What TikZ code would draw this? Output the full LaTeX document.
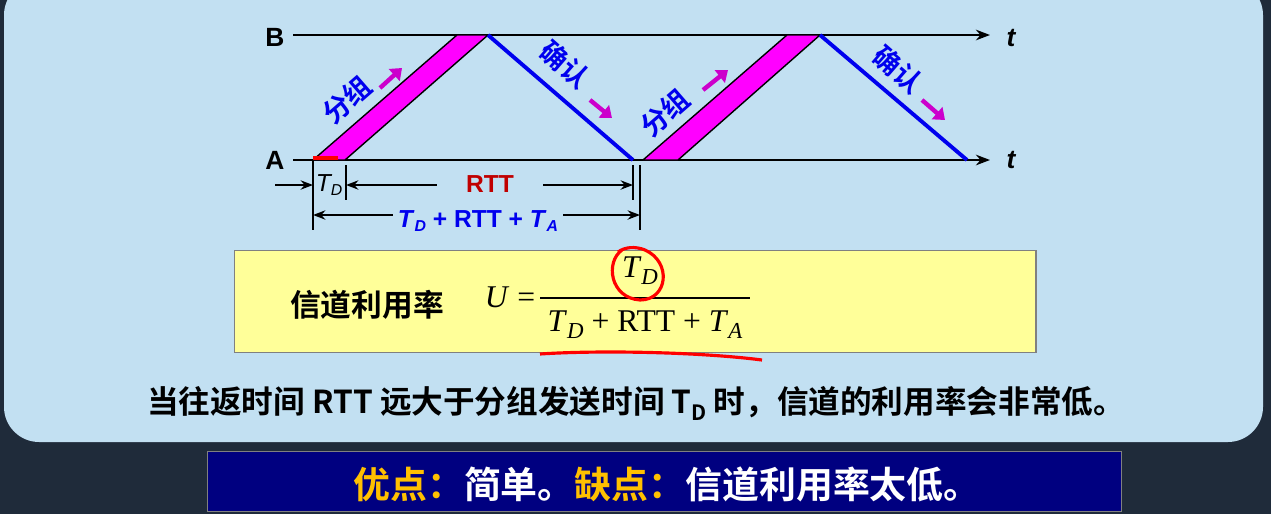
\documentclass[tikz,border=0pt]{standalone}
\usepackage{fontspec}
\setmainfont{Liberation Sans}
\newfontfamily\cjk{Noto Sans CJK SC}[BoldFont={Noto Sans CJK SC Bold}]
\newfontfamily\tms{Liberation Serif}
\usetikzlibrary{arrows.meta}
\definecolor{bgdark}{HTML}{1F2B3A}
\definecolor{panel}{HTML}{C2E0F2}
\definecolor{mag}{HTML}{FF00FF}
\definecolor{arr}{HTML}{CC00CC}
\definecolor{ablue}{HTML}{0000EE}
\definecolor{rttred}{HTML}{C00000}
\definecolor{yel}{HTML}{FFFF99}
\definecolor{navy}{HTML}{000080}
\definecolor{gold}{HTML}{FFC000}
\begin{document}
\begin{tikzpicture}[x=0.02cm,y=-0.02cm,
  axis/.style={line width=1.6pt,-{Stealth[length=8pt]}},
  pkt/.style={fill=mag,draw=black,line width=0.8pt},
  ack/.style={draw=ablue,line width=2.2pt},
  lbl/.style={font=\cjk\bfseries\fontsize{15.5}{15.5}\selectfont,text=ablue,inner sep=0pt},
  marr/.style={draw=arr,line width=2.5pt,-{Triangle[length=6pt,width=9pt]}},
  dim/.style={line width=1.2pt,{Stealth[length=7pt]}-{Stealth[length=7pt]}},
  tick/.style={line width=1.4pt},
  dlab/.style={fill=panel,font=\bfseries\fontsize{14}{14}\selectfont,inner sep=3pt}]
\useasboundingbox (0,0) rectangle (1271,514);
\fill[bgdark] (0,0) rectangle (1271,514);
\fill[panel,rounded corners=20pt] (4,-20) rectangle (1263,442);
% axes
\coordinate (B0) at (293,35); \coordinate (B1) at (990,35);
\coordinate (A0) at (293,160); \coordinate (A1) at (990,160);
\draw[axis] (B0) -- (B1);
\draw[axis] (A0) -- (A1);
\node[font=\bfseries\fontsize{15}{15}\selectfont] (lB) at (275,37) {B};
\node[font=\bfseries\fontsize{15}{15}\selectfont] (lA) at (275,160) {A};
\node[font=\bfseries\itshape\fontsize{15}{15}\selectfont] (t1) at (1011,38) {t};
\node[font=\bfseries\itshape\fontsize{15}{15}\selectfont] (t2) at (1011,160) {t};
% packets and acks
\draw[pkt] (313,160) -- (345,160) -- (488,35) -- (457,35) -- cycle;
\draw[red,line width=2pt] (313,158) -- (338,158);
\draw[ack] (488,35) -- (633,160);
\draw[pkt] (643,160) -- (678,160) -- (820,35) -- (787,35) -- cycle;
\draw[ack] (820,35) -- (967,160);
% labels
\node[lbl,rotate=41] (p1) at (347,100) {分组};
\draw[marr] (380,88) -- (402,68);
\node[lbl,rotate=-41] (a1) at (565,65) {确认};
\draw[marr] (590,100) -- (612,118);
\node[lbl,rotate=41] (p2) at (665,113) {分组};
\draw[marr] (703,90) -- (728,70);
\node[lbl,rotate=-41] (a2) at (898,70) {确认};
\draw[marr] (922,100) -- (945,120);
% dimensions
\draw[tick] (313,160) -- (313,230);
\draw[tick] (346,165) -- (346,200);
\draw[tick] (633,165) -- (633,200);
\draw[tick] (640,165) -- (640,230);
\draw[line width=1.2pt,-{Stealth[length=7pt]}] (275,185) -- (313,185);
\node[font=\itshape\fontsize{14}{14}\selectfont] (td) at (329,185) {T\raisebox{-0.35ex}{\fontsize{9}{9}\selectfont D}};
\draw[dim] (346,185) -- (633,185);
\node[dlab,text=rttred,minimum width=60pt] (rtt) at (490,184) {RTT};
\draw[dim] (313,215) -- (640,215);
\node[dlab,text=ablue] (sum) at (478,221) {\textit{T}\raisebox{-0.35ex}{\fontsize{9}{9}\selectfont\textit{D}} + RTT + \textit{T}\raisebox{-0.35ex}{\fontsize{9}{9}\selectfont\textit{A}}};
% yellow box
\node[draw=gray,fill=yel,line width=0.8pt,minimum width=456pt,minimum height=58pt,anchor=north west,inner sep=0pt] (box) at (234,250) {};
\node[font=\cjk\bfseries\fontsize{17.5}{17.5}\selectfont] (ul) at (367,305) {信道利用率};
\node[font=\tms\fontsize{18}{18}\selectfont] (U) at (510,297) {\textit{U} =};
\node[font=\tms\fontsize{18}{18}\selectfont] (num) at (640,271) {\textit{T}\raisebox{-0.5ex}{\fontsize{13}{13}\selectfont\textit{D}}};
\draw[line width=0.8pt] (540,298) -- (750,298);
\node[font=\tms\fontsize{18}{18}\selectfont] (den) at (645,325) {\textit{T}\raisebox{-0.5ex}{\fontsize{13}{13}\selectfont\textit{D}} + RTT + \textit{T}\raisebox{-0.5ex}{\fontsize{13}{13}\selectfont\textit{A}}};
\draw[red,line width=1.8pt] (622,250) .. controls (605,262) and (610,298) .. (640,300) .. controls (668,300) and (672,262) .. (645,250) .. controls (635,246) and (625,247) .. (618,252);
\draw[red,line width=1.8pt] (540,354) .. controls (600,350) and (700,352) .. (762,360);
% sentence
\node[font=\cjk\bfseries\fontsize{18}{18}\selectfont] (sent) at (636,403) {当往返时间 RTT 远大于分组发送时间 T\raisebox{-0.4ex}{\fontsize{12}{12}\selectfont D} 时，信道的利用率会非常低。};
% bottom bar
\node[draw=gray,fill=navy,line width=0.8pt,minimum width=520pt,minimum height=34pt,anchor=north west,inner sep=0pt] (bar) at (207,451) {};
\node[font=\cjk\bfseries\fontsize{21}{21}\selectfont,text=white] (adv) at (667,484) {\textcolor{gold}{优点：}简单。\textcolor{gold}{缺点：}信道利用率太低。};
\end{tikzpicture}
\end{document}
